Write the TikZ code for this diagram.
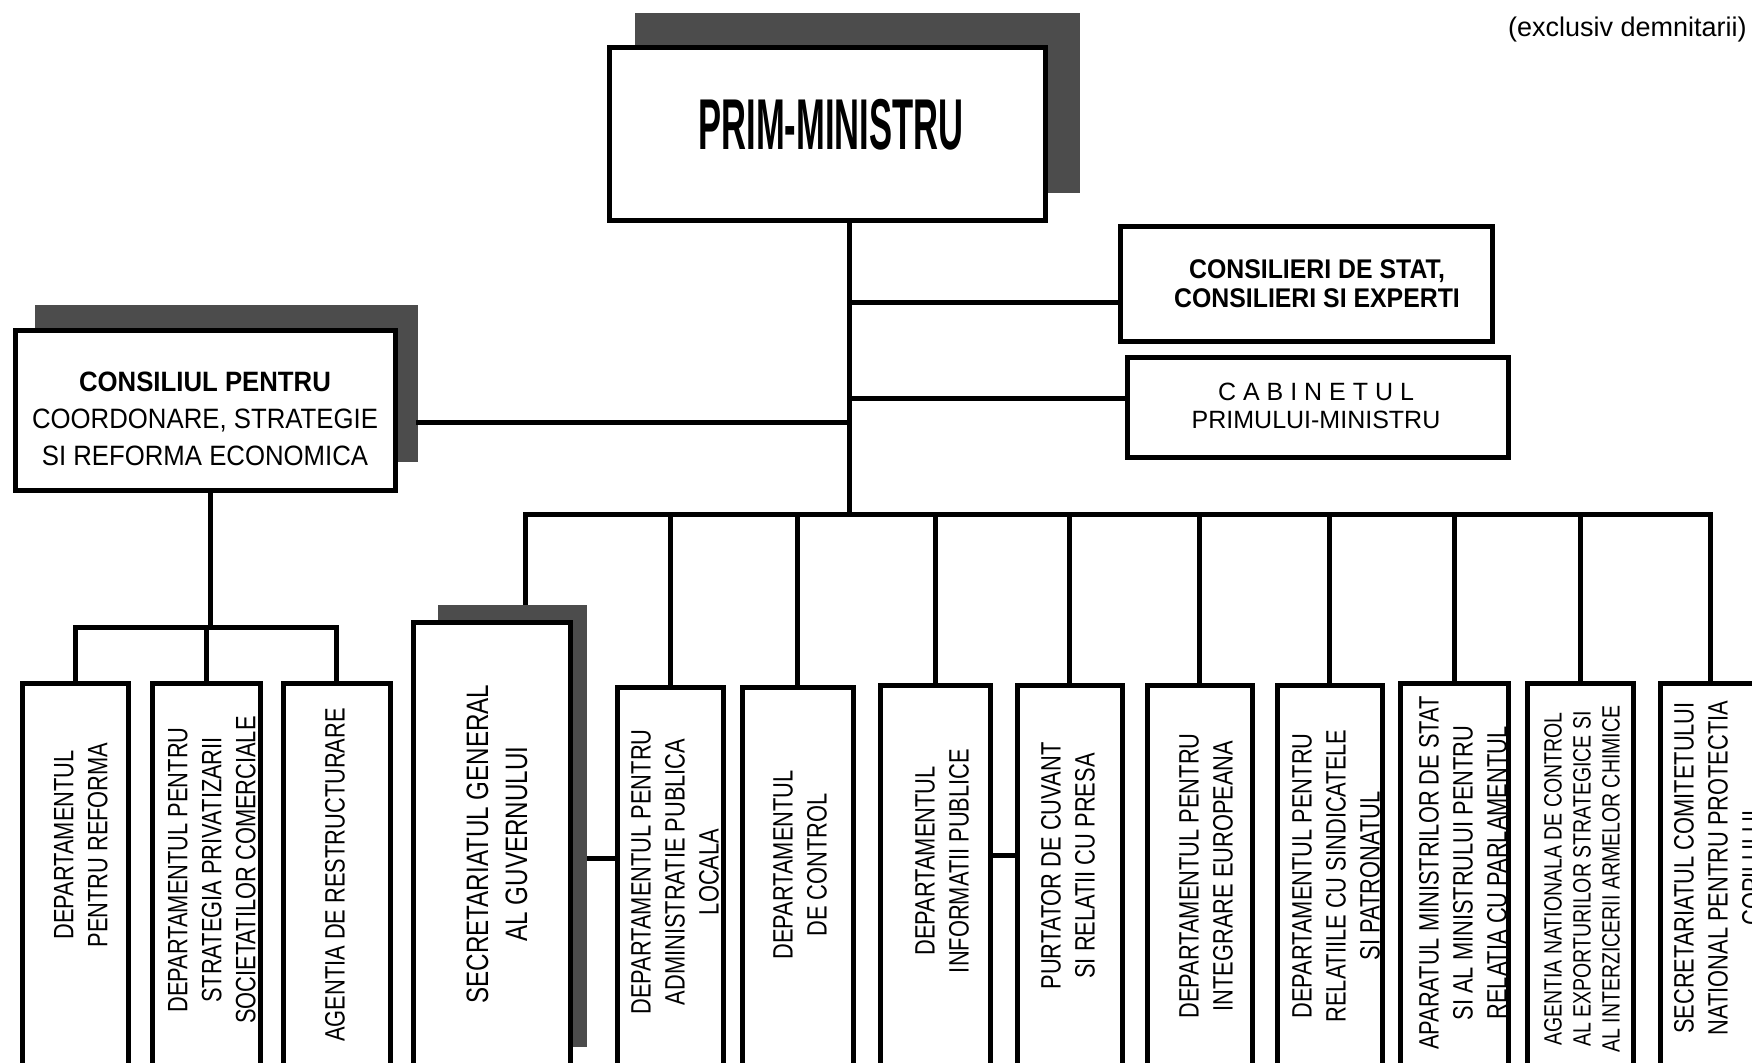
\documentclass[tikz,border=0pt]{standalone}
\usepackage{fontspec}
\setmainfont{Liberation Sans}
\newfontfamily\narrowfont[FakeStretch=0.78]{Liberation Sans}
\newfontfamily\pmfont[FakeStretch=0.48]{Liberation Sans}
\newfontfamily\midfont[FakeStretch=0.92]{Liberation Sans}
\usetikzlibrary{fit}
\tikzset{
  box/.style={draw=black, line width=5pt, fill=white, inner sep=0pt},
  shadowbox/.style={fill=black!70, draw=none, inner sep=0pt},
  conn/.style={line width=5pt, line cap=rect},
  vtext/.style={rotate=90, align=center, inner sep=0pt, font=\narrowfont\fontsize{28}{34}\selectfont},
  htext/.style={align=center, inner sep=0pt},
}
\begin{document}
\begin{tikzpicture}[x=1pt,y=-1pt]
\useasboundingbox (0,0) rectangle (1752,1062);
\fill[white] (0,0) rectangle (1752,1062);
\clip (0,0) rectangle (1752,1062);

% ---------- junction coordinates ----------
\coordinate (mainx) at (849,514);
\coordinate (sgx) at (525,514);
\coordinate (jcons) at (849,302);
\coordinate (jcab) at (849,398);
\coordinate (jcsl) at (849,422);
\coordinate (lbar) at (210,627);
\coordinate (hsg) at (600,858);
\coordinate (hinfo) at (1000,855);

% ---------- top boxes (geometry) ----------
\node[shadowbox, fit={(635,13) (1080,193)}] (pmsh) {};
\node[box, fit={(609,48) (1045,220)}] (pm) {};
\node[box, fit={(1120,226) (1492,341)}] (cons) {};
\node[box, fit={(1127,357) (1508,457)}] (cab) {};
\node[shadowbox, fit={(35,305) (418,462)}] (cslsh) {};
\node[box, fit={(15,330) (395,490)}] (csl) {};

% ---------- bottom boxes (geometry) ----------
\node[box, fit={(22,683) (128,1070)}] (b1) {};
\node[box, fit={(152,683) (260,1070)}] (b2) {};
\node[box, fit={(283,683) (390,1070)}] (b3) {};
\node[shadowbox, fit={(438,605) (587,1047)}] (sgsh) {};
\node[box, fit={(413,622) (570,1070)}] (sg) {};
\node[box, fit={(617,687) (723,1070)}] (dapl) {};
\node[box, fit={(742,687) (853,1070)}] (ctrl) {};
\node[box, fit={(880,685) (990,1070)}] (info) {};
\node[box, fit={(1017,685) (1122,1070)}] (purt) {};
\node[box, fit={(1147,685) (1252,1070)}] (integ) {};
\node[box, fit={(1277,685) (1382,1070)}] (rel) {};
\node[box, fit={(1400,683) (1508,1070)}] (apar) {};
\node[box, fit={(1527,683) (1633,1070)}] (agn) {};
\node[box, fit={(1660,683) (1760,1070)}] (scom) {};

% ---------- connectors ----------
\draw[conn] (pm.south -| mainx) -- (mainx);
\draw[conn] (jcons) -- (jcons -| cons.west);
\draw[conn] (jcab) -- (jcab -| cab.west);
\draw[conn] (jcsl) -- (jcsl -| cslsh.east);
\draw[conn] (sgx) -- (scom.north |- mainx);
\draw[conn] (sgx) -- (sgx |- sgsh.north);
\foreach \b in {dapl,ctrl,info,purt,integ,rel,apar,agn,scom}{
  \draw[conn] (\b.north |- mainx) -- (\b.north);
}
\draw[conn] (csl.south -| lbar) -- (lbar);
\draw[conn] (b1.north |- lbar) -- (b3.north |- lbar);
\foreach \b in {b1,b2,b3}{
  \draw[conn] (\b.north |- lbar) -- (\b.north);
}
\draw[conn] (sgsh.east |- hsg) -- (dapl.west |- hsg);
\draw[conn] (info.east |- hinfo) -- (purt.west |- hinfo);

% redraw boxes over connector ends
\node[box, fit={(609,48) (1045,220)}] {};
\node[shadowbox, fit={(438,605) (587,1047)}] {};
\node[box, fit={(413,622) (570,1070)}] {};

% ---------- texts ----------
\node[htext, font=\pmfont\bfseries\fontsize{72}{72}\selectfont] (pmt) at (831,125) {PRIM-MINISTRU};
\node[htext, font=\midfont\bfseries\fontsize{27}{29}\selectfont] (const) at (1317,284) {CONSILIERI DE STAT,\\CONSILIERI SI EXPERTI};
\node[htext, font=\fontsize{25}{28}\selectfont] (cabt) at (1316,406) {C A B I N E T U L\\PRIMULUI-MINISTRU};
\node[htext, font=\midfont\fontsize{28}{37}\selectfont] (cslt) at (205,419) {\textbf{CONSILIUL PENTRU}\\COORDONARE, STRATEGIE\\SI REFORMA ECONOMICA};
\node[htext, font=\fontsize{27}{30}\selectfont, anchor=west] (excl) at (1508,30) {(exclusiv demnitarii)};

\node[vtext] (b1t) at (81,845) {DEPARTAMENTUL\\PENTRU REFORMA};
\node[vtext] (b2t) at (212,870) {DEPARTAMENTUL PENTRU\\STRATEGIA PRIVATIZARII\\SOCIETATILOR COMERCIALE};
\node[vtext] (b3t) at (335,875) {AGENTIA DE RESTRUCTURARE};
\node[vtext, font=\narrowfont\fontsize{31}{39}\selectfont] (sgt) at (497,844) {SECRETARIATUL GENERAL\\AL GUVERNULUI};
\node[vtext] (daplt) at (675,872) {DEPARTAMENTUL PENTRU\\ADMINISTRATIE PUBLICA\\LOCALA};
\node[vtext] (ctrlt) at (800,865) {DEPARTAMENTUL\\DE CONTROL};
\node[vtext] (infot) at (942,861) {DEPARTAMENTUL\\INFORMATII PUBLICE};
\node[vtext] (purtt) at (1068,866) {PURTATOR DE CUVANT\\SI RELATII CU PRESA};
\node[vtext] (integt) at (1206,876) {DEPARTAMENTUL PENTRU\\INTEGRARE EUROPEANA};
\node[vtext] (relt) at (1336,876) {DEPARTAMENTUL PENTRU\\RELATIILE CU SINDICATELE\\SI PATRONATUL};
\node[vtext] (apart) at (1463,873) {APARATUL MINISTRILOR DE STAT\\SI AL MINISTRULUI PENTRU\\RELATIA CU PARLAMENTUL};
\node[vtext, font=\narrowfont\fontsize{25}{29}\selectfont] (agnt) at (1582,879) {AGENTIA NATIONALA DE CONTROL\\AL EXPORTURILOR STRATEGICE SI\\AL INTERZICERII ARMELOR CHIMICE};
\node[vtext] (scomt) at (1718,868) {SECRETARIATUL COMITETULUI\\NATIONAL PENTRU PROTECTIA\\COPILULUI};
\end{tikzpicture}
\end{document}
